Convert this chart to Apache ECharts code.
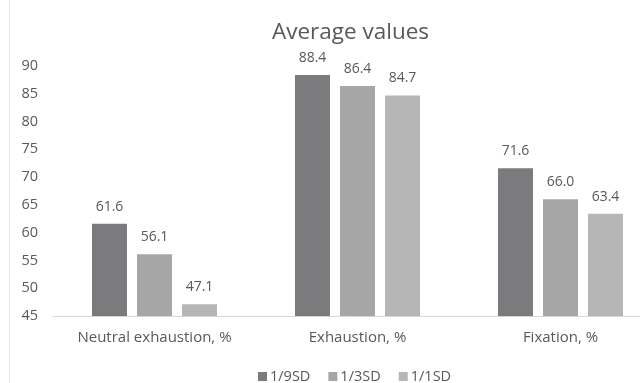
<!DOCTYPE html>
<html>
<head>
<meta charset="utf-8">
<script src="https://cdn.jsdelivr.net/npm/echarts@6/dist/echarts.min.js"></script>
<style>
  html, body { margin: 0; padding: 0; background: #ffffff; }
  #chart { width: 640px; height: 383px; }
</style>
</head>
<body>
<div id="chart"></div>
<script>
// Categories and series values
const categories = ['Neutral exhaustion, %', 'Exhaustion, %', 'Fixation, %'];
const seriesNames = ['1/9SD', '1/3SD', '1/1SD'];
const values19SD = [61.6, 88.4, 71.6];
const values13SD = [56.1, 86.4, 66.0];
const values11SD = [47.1, 84.7, 63.4];
const yTicks = { min: 45, max: 90, interval: 5 };

const colors = ['#7b7b7d', '#a6a6a6', '#b6b6b6'];
const fontFamily = '"Open Sans", "Noto Sans", sans-serif';
const textColor = '#595959';

const chart = echarts.init(document.getElementById('chart'), null, { renderer: 'canvas' });

function barSeries(name, data, color) {
  return {
    name: name,
    type: 'bar',
    data: data,
    barWidth: 35,
    barGap: '28.6%',
    itemStyle: { color: color },
    label: {
      show: true,
      position: 'top',
      distance: 10,
      formatter: p => p.value.toFixed(1),
      color: textColor,
      fontFamily: fontFamily,
      fontSize: 14
    }
  };
}

chart.setOption({
  animation: false,
  backgroundColor: '#ffffff',
  color: colors,
  title: {
    text: 'Average values',
    left: 267,
    top: 16,
    textStyle: { fontFamily: fontFamily, fontSize: 22.5, fontWeight: 'normal', color: textColor }
  },
  legend: {
    data: seriesNames,
    left: 253,
    top: 364,
    icon: 'rect',
    itemWidth: 9,
    itemHeight: 9,
    itemGap: 18,
    textStyle: { fontFamily: fontFamily, fontSize: 14.5, color: textColor, padding: [0, 0, 0, -2] }
  },
  grid: { left: 53, top: 66, width: 609, height: 250, containLabel: false, outerBoundsMode: 'none' },
  xAxis: {
    type: 'category',
    data: categories,
    axisLine: { lineStyle: { color: '#d9d9d9', width: 1 } },
    axisTick: { show: false },
    axisLabel: { margin: 14, fontFamily: fontFamily, fontSize: 15, color: textColor }
  },
  yAxis: {
    type: 'value',
    min: yTicks.min,
    max: yTicks.max,
    interval: yTicks.interval,
    splitLine: { show: false },
    axisLine: { show: false },
    axisTick: { show: false },
    axisLabel: { margin: 15, fontFamily: fontFamily, fontSize: 14.5, color: textColor }
  },
  graphic: [{
    type: 'line',
    shape: { x1: 9.5, y1: 0, x2: 9.5, y2: 383 },
    style: { stroke: '#e6e6e6', lineWidth: 1 }
  }],
  series: [
    barSeries(seriesNames[0], values19SD, colors[0]),
    barSeries(seriesNames[1], values13SD, colors[1]),
    barSeries(seriesNames[2], values11SD, colors[2])
  ]
});
</script>
</body>
</html>
